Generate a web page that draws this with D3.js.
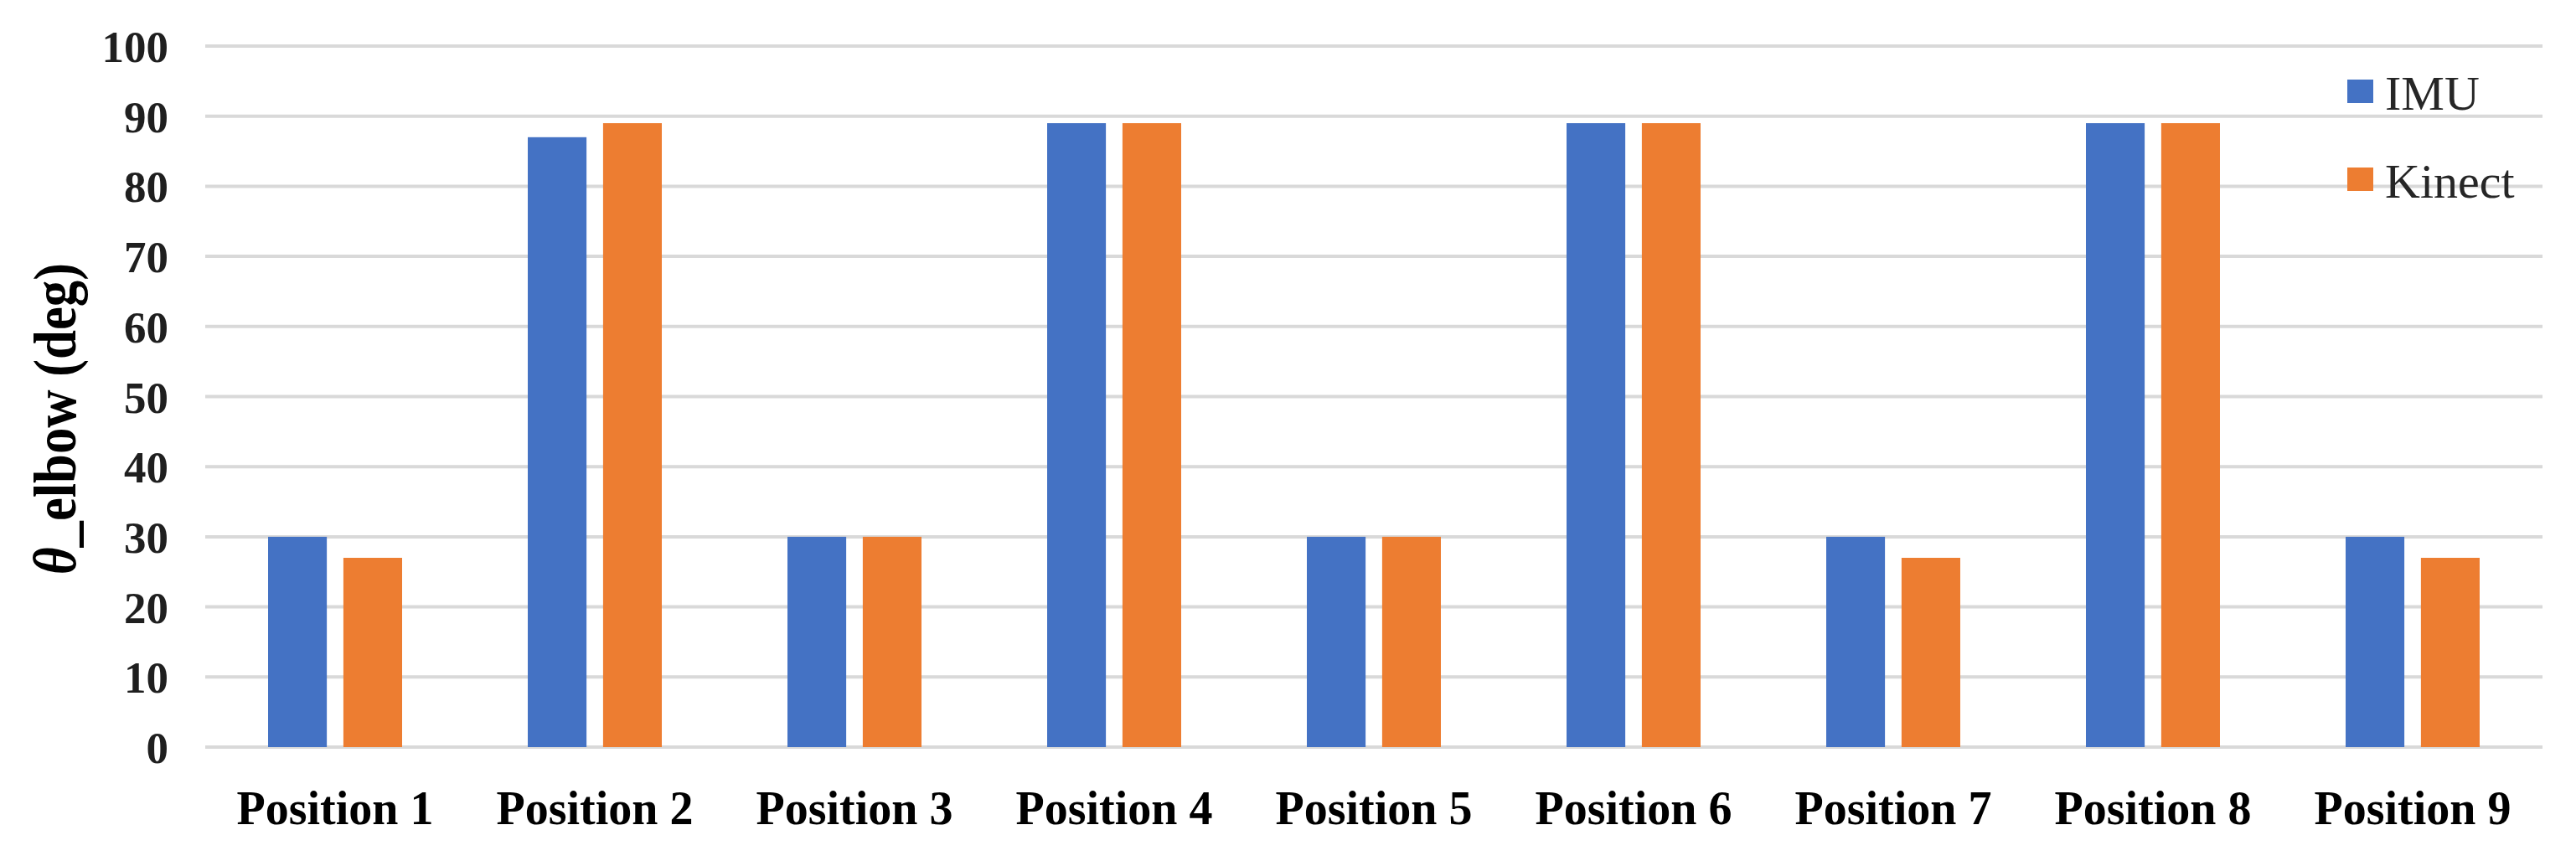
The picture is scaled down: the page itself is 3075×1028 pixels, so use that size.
<!DOCTYPE html>
<html>
<head>
<meta charset="utf-8">
<script src="https://cdn.jsdelivr.net/npm/d3@7"></script>
<style>
  html, body { margin: 0; padding: 0; background: #ffffff; }
  svg { display: block; }
</style>
</head>
<body>
<svg id="chart" width="3075" height="1028"></svg>
<script>
// ---- data ----
const categories = ["Position 1", "Position 2", "Position 3", "Position 4", "Position 5",
                    "Position 6", "Position 7", "Position 8", "Position 9"];
const seriesNames = ["IMU", "Kinect"];
const imuValues = [30, 87, 30, 89, 30, 89, 30, 89, 30];
const kinectValues = [27, 89, 30, 89, 30, 89, 27, 89, 27];
const yTicks = [0, 10, 20, 30, 40, 50, 60, 70, 80, 90, 100];
const seriesColors = ["#4472C4", "#ED7D31"];

const valuesBySeries = [imuValues, kinectValues];

const svg = d3.select("#chart");
const plot = { left: 245, right: 3035, top: 55, bottom: 892 };

const x = d3.scaleBand()
  .domain(categories)
  .range([plot.left, plot.right])
  .paddingInner(0.4839)
  .paddingOuter(0.242);

const xs = d3.scaleBand()
  .domain(seriesNames)
  .range([0, x.bandwidth()])
  .paddingInner(0.22);

const y = d3.scaleLinear().domain([0, 100]).range([plot.bottom, plot.top]);
const color = d3.scaleOrdinal().domain(seriesNames).range(seriesColors);

// gridlines
svg.append("g")
  .selectAll("line")
  .data(yTicks)
  .join("line")
  .attr("x1", plot.left)
  .attr("x2", plot.right)
  .attr("y1", d => y(d))
  .attr("y2", d => y(d))
  .attr("stroke", "#d9d9d9")
  .attr("stroke-width", 4);

// y axis labels
const yAxis = d3.axisLeft(y).tickValues(yTicks).tickSize(0).tickPadding(0);
const gy = svg.append("g")
  .attr("transform", `translate(201,0)`)
  .call(yAxis);
gy.select(".domain").remove();
gy.selectAll("text")
  .attr("font-family", "'Liberation Serif', 'Times New Roman', serif")
  .attr("font-weight", "bold")
  .attr("font-size", 53)
  .attr("fill", "#1f1f1f")
  .attr("dy", "0.35em");

// bars
const data = categories.map((c, i) => ({
  cat: c,
  vals: seriesNames.map((s, j) => ({ series: s, value: valuesBySeries[j][i] }))
}));

const groups = svg.append("g")
  .selectAll("g")
  .data(data)
  .join("g")
  .attr("transform", d => `translate(${x(d.cat)},0)`);

groups.selectAll("rect")
  .data(d => d.vals)
  .join("rect")
  .attr("x", d => xs(d.series))
  .attr("width", xs.bandwidth())
  .attr("y", d => y(d.value))
  .attr("height", d => y(0) - y(d.value))
  .attr("fill", d => color(d.series));

// x axis labels
const xAxis = d3.axisBottom(x).tickSize(0).tickPadding(0);
const gx = svg.append("g")
  .attr("transform", `translate(0,984)`)
  .call(xAxis);
gx.select(".domain").remove();
gx.selectAll("text")
  .attr("font-family", "'Liberation Serif', 'Times New Roman', serif")
  .attr("font-weight", "bold")
  .attr("font-size", 56)
  .attr("fill", "#000")
  .attr("dy", 0);

// y axis title
const title = svg.append("text")
  .attr("transform", `translate(90,500) rotate(-90)`)
  .attr("text-anchor", "middle")
  .attr("font-family", "'Liberation Serif', 'Times New Roman', serif")
  .attr("font-weight", "bold")
  .attr("font-size", 72)
  .attr("fill", "#000")
  .attr("textLength", 372)
  .attr("lengthAdjust", "spacingAndGlyphs");
title.append("tspan").attr("font-style", "italic").text("θ");
title.append("tspan").text("_elbow (deg)");

// legend
const legend = svg.append("g")
  .selectAll("g")
  .data(seriesNames)
  .join("g")
  .attr("transform", (d, i) => `translate(2802,${95 + i * 105})`);
legend.append("rect")
  .attr("width", 31)
  .attr("height", 28)
  .attr("fill", d => color(d));
legend.append("text")
  .attr("x", 45)
  .attr("y", 36)
  .attr("font-family", "'Liberation Serif', 'Times New Roman', serif")
  .attr("font-size", 58)
  .attr("fill", "#262626")
  .text(d => d);
</script>
</body>
</html>
